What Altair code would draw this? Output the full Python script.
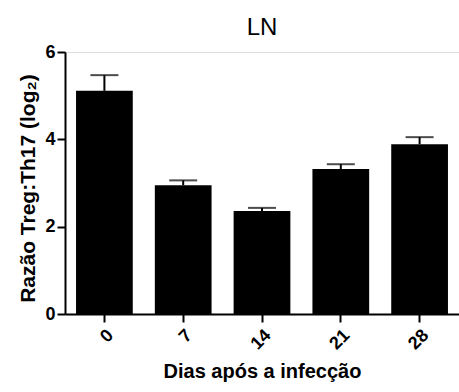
import altair as alt
import pandas as pd

# Treg:Th17 ratio (log2) in lymph node, mean and upper SEM per day
days = ["0", "7", "14", "21", "28"]
ratio = [5.11, 2.95, 2.36, 3.32, 3.89]
sem = [0.36, 0.11, 0.07, 0.11, 0.16]

df = pd.DataFrame({"dia": days, "razao": ratio, "sem": sem})
df["topo"] = df["razao"] + df["sem"]

FONT = "Liberation Sans"

x = alt.X(
    "dia:N",
    sort=days,
    title="Dias após a infecção",
    scale=alt.Scale(paddingInner=0.28, paddingOuter=0.14),
    axis=alt.Axis(
        labelAngle=-45,
        labelAlign="right",
        labelBaseline="top",
        labelFontSize=18,
        labelFontWeight="bold",
        labelFont=FONT,
        labelColor="black",
        labelPadding=4,
        titleFontSize=20,
        titleFontWeight="bold",
        titleFont=FONT,
        titleColor="black",
        titlePadding=9,
        domainColor="black",
        domainWidth=2,
        tickColor="black",
        tickWidth=2,
        tickSize=8,
    ),
)

y_scale = alt.Scale(domain=[0, 6], nice=False)
y_axis = alt.Axis(
    values=[0, 2, 4, 6],
    labelFontSize=18,
    labelFontWeight="bold",
    labelFont=FONT,
    labelColor="black",
    labelPadding=2,
    titleFontSize=21,
    titleFontWeight="bold",
    titleFont=FONT,
    titleColor="black",
    titlePadding=6,
    titleY=136,
    domainColor="black",
    domainWidth=2,
    tickColor="black",
    tickWidth=2,
    tickSize=8,
    grid=False,
)

bars = alt.Chart(df).mark_bar(color="black").encode(
    x=x,
    y=alt.Y("razao:Q", scale=y_scale, axis=y_axis, title="Razão Treg:Th17 (log₂)"),
)

whisker = alt.Chart(df).mark_rule(color="black", strokeWidth=2).encode(
    x=alt.X("dia:N", sort=days),
    y="razao:Q",
    y2="topo:Q",
)

cap = alt.Chart(df).mark_tick(color="black", thickness=2, size=28).encode(
    x=alt.X("dia:N", sort=days),
    y="topo:Q",
)

chart = (
    alt.layer(bars, whisker, cap)
    .properties(
        width=394,
        height=262,
        autosize=alt.AutoSizeParams(type="none"),
        padding={"left": 65, "top": 52, "right": 0, "bottom": 78},
        title=alt.TitleParams(
            "LN", fontSize=24, fontWeight="normal", font=FONT, color="black",
            anchor="middle", offset=3,
        ),
    )
    .configure_view(stroke=None)
    .configure(background="white")
)

chart.save("out.html", embed_options={"renderer": "svg", "actions": False})
